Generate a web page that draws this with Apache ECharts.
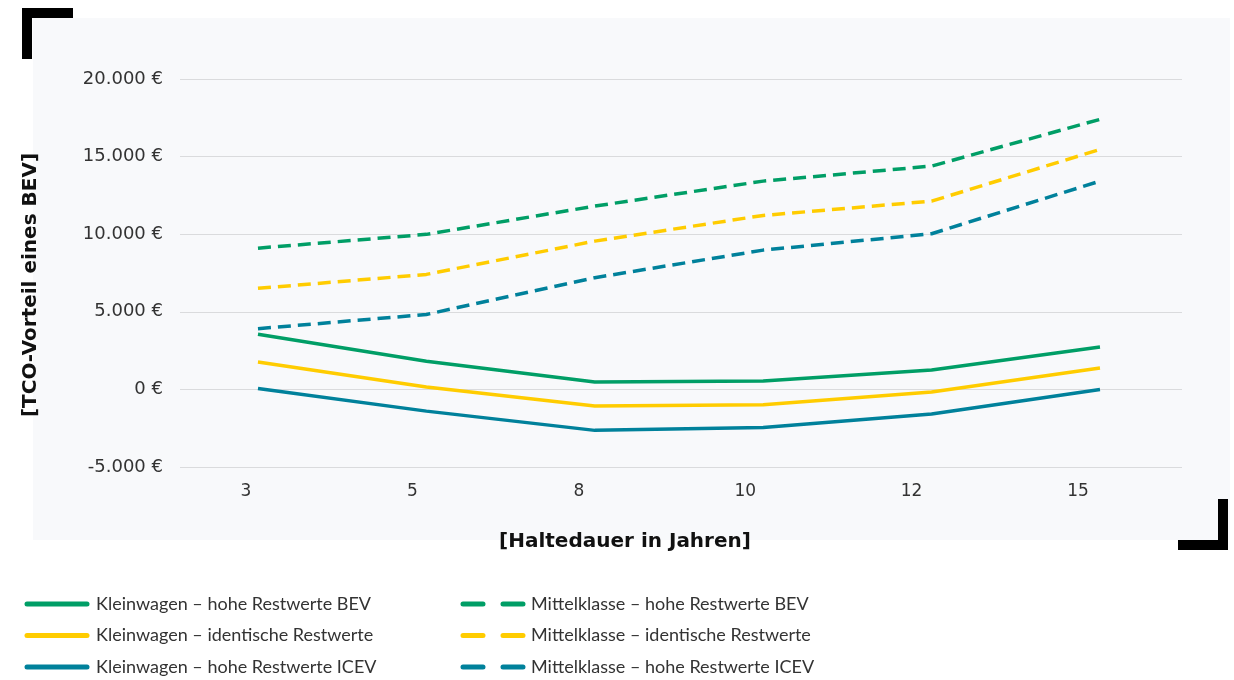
<!DOCTYPE html>
<html>
<head>
<meta charset="utf-8">
<script src="https://cdn.jsdelivr.net/npm/echarts@6/dist/echarts.min.js"></script>
<style>
  html, body { margin: 0; padding: 0; background: #ffffff; }
  #chart { width: 1234px; height: 680px; }
</style>
</head>
<body>
<div id="chart"></div>
<script>
// Haltedauer (Jahre)
const years = ['3', '5', '8', '10', '12', '15'];

// TCO-Vorteil eines BEV in Euro
const kleinHoheBEV   = [3550, 1820, 470, 535, 1245, 2730];
const kleinIdentisch = [1760, 150, -1075, -990, -170, 1375];
const kleinHoheICEV  = [60, -1400, -2640, -2450, -1590, 0];
const mittelHoheBEV   = [9100, 9990, 11810, 13420, 14390, 17400];
const mittelIdentisch = [6510, 7410, 9555, 11210, 12130, 15460];
const mittelHoheICEV  = [3910, 4830, 7200, 8975, 10030, 13420];

const seriesNames = [
  'Kleinwagen – hohe Restwerte BEV',
  'Kleinwagen – identische Restwerte',
  'Kleinwagen – hohe Restwerte ICEV',
  'Mittelklasse – hohe Restwerte BEV',
  'Mittelklasse – identische Restwerte',
  'Mittelklasse – hohe Restwerte ICEV'
];

const GREEN = '#009e66';
const YELLOW = '#ffcc00';
const TEAL = '#00819b';

function euro(v) {
  const s = Math.abs(v).toString().replace(/\B(?=(\d{3})+(?!\d))/g, '.');
  return (v < 0 ? '-' : '') + s + ' €';
}

function lineSeries(name, values, color, dashed) {
  return {
    name: name,
    type: 'line',
    xAxisIndex: 0,
    yAxisIndex: 0,
    symbol: 'none',
    smooth: false,
    data: values.map((v, i) => [i, v]),
    lineStyle: { color: color, width: 3.5, type: dashed ? [13, 7] : 'solid' },
    itemStyle: { color: color },
    z: 3
  };
}

const legendText = { fontFamily: 'Lato', fontSize: 18, color: '#333333', lineHeight: 18 };

function legendItem(name, color, dashed) {
  return {
    name: name,
    lineStyle: { color: color, width: 5, type: dashed ? [20, 20] : 'solid', cap: 'round' },
    itemStyle: { color: color, opacity: 0 }
  };
}

const chart = echarts.init(document.getElementById('chart'), null, { renderer: 'canvas' });

chart.setOption({
  animation: false,
  backgroundColor: '#ffffff',
  graphic: [
    { type: 'rect', z: -100, silent: true,
      shape: { x: 33, y: 18, width: 1197, height: 522 },
      style: { fill: '#f8f9fb' } },
    { type: 'rect', z: 10, silent: true, shape: { x: 22, y: 8, width: 51, height: 10 }, style: { fill: '#000000' } },
    { type: 'rect', z: 10, silent: true, shape: { x: 22, y: 8, width: 10, height: 51 }, style: { fill: '#000000' } },
    { type: 'rect', z: 10, silent: true, shape: { x: 1178, y: 540, width: 50, height: 10 }, style: { fill: '#000000' } },
    { type: 'rect', z: 10, silent: true, shape: { x: 1218, y: 499, width: 10, height: 51 }, style: { fill: '#000000' } },
    { type: 'text', z: 10, silent: true, x: 31, y: 285, rotation: Math.PI / 2,
      style: { text: '[TCO-Vorteil eines BEV]', fill: '#111111',
        font: 'bold 20px "DejaVu Sans"', align: 'center', verticalAlign: 'middle' } },
    { type: 'text', z: 10, silent: true, x: 625, y: 542,
      style: { text: '[Haltedauer in Jahren]', fill: '#111111',
        font: 'bold 20px "DejaVu Sans"', align: 'center', verticalAlign: 'middle' } }
  ],
  grid: [
    { left: 180, top: 79, width: 1002, height: 388 },
    { left: 162.8, top: 79, width: 998.4, height: 388 }
  ],
  xAxis: [
    {
      type: 'value', gridIndex: 0, min: -0.463, max: 5.487,
      axisLine: { show: false }, axisTick: { show: false },
      axisLabel: { show: false }, splitLine: { show: false }
    },
    {
      type: 'category', gridIndex: 1, data: years, boundaryGap: true,
      axisLine: { show: false }, axisTick: { show: false },
      splitLine: { show: false },
      axisLabel: { margin: 16, fontFamily: 'DejaVu Sans', fontSize: 17, color: '#333333' }
    }
  ],
  yAxis: [
    {
      type: 'value', gridIndex: 0, min: -5000, max: 20000, interval: 5000,
      axisLine: { show: false }, axisTick: { show: false },
      splitLine: { show: true, lineStyle: { color: '#dadbdd', width: 1.2 } },
      axisLabel: { margin: 17, fontFamily: 'DejaVu Sans', fontSize: 18, color: '#333333',
        formatter: euro }
    },
    {
      type: 'value', gridIndex: 1, min: -5000, max: 20000, show: false,
      splitLine: { show: false }
    }
  ],
  legend: [
    {
      left: 24.5, top: 595, height: 90, padding: 0, orient: 'vertical',
      itemWidth: 60, itemHeight: 14, itemGap: 13.5,
      selectedMode: false, textStyle: Object.assign({ padding: [0, 0, 0, 4] }, legendText),
      data: [
        legendItem(seriesNames[0], GREEN, false),
        legendItem(seriesNames[1], YELLOW, false),
        legendItem(seriesNames[2], TEAL, false)
      ]
    },
    {
      left: 460.5, top: 595, height: 90, padding: 0, orient: 'vertical',
      itemWidth: 60, itemHeight: 14, itemGap: 13.5,
      selectedMode: false, textStyle: Object.assign({ padding: [0, 0, 0, 3] }, legendText),
      data: [
        legendItem(seriesNames[3], GREEN, true),
        legendItem(seriesNames[4], YELLOW, true),
        legendItem(seriesNames[5], TEAL, true)
      ]
    }
  ],
  series: [
    lineSeries(seriesNames[0], kleinHoheBEV, GREEN, false),
    lineSeries(seriesNames[1], kleinIdentisch, YELLOW, false),
    lineSeries(seriesNames[2], kleinHoheICEV, TEAL, false),
    lineSeries(seriesNames[3], mittelHoheBEV, GREEN, true),
    lineSeries(seriesNames[4], mittelIdentisch, YELLOW, true),
    lineSeries(seriesNames[5], mittelHoheICEV, TEAL, true)
  ]
});
</script>
</body>
</html>
